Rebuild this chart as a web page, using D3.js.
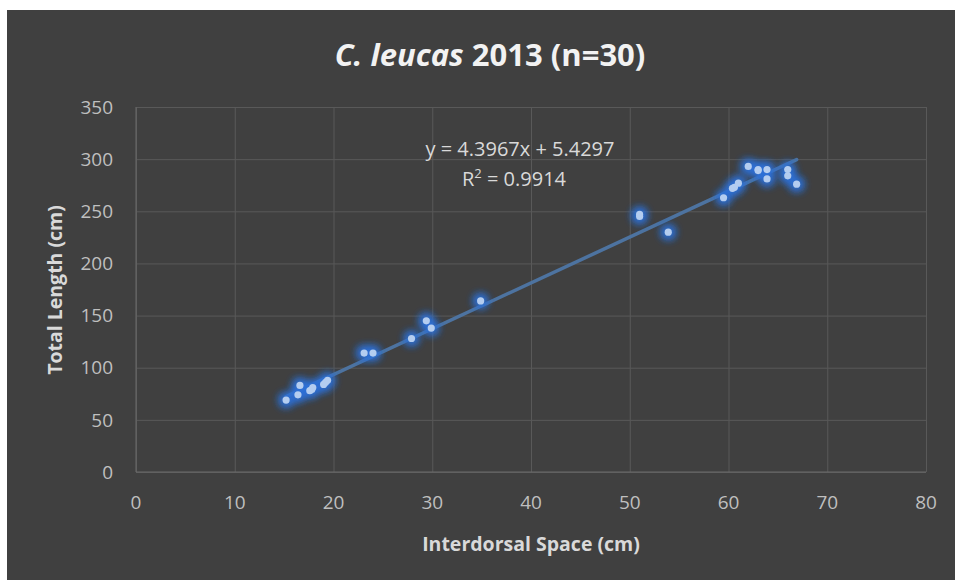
<!DOCTYPE html>
<html>
<head>
<meta charset="utf-8">
<script src="https://cdn.jsdelivr.net/npm/d3@7"></script>
<style>
  body { margin: 0; background: #fff; }
  svg { display: block; font-family: "Open Sans", "DejaVu Sans", sans-serif; }
</style>
</head>
<body>
<div id="chart"></div>
<script>
// measured interdorsal space (cm) and total length (cm)
var spaceCm = [15.2, 16.4, 16.6, 17.6, 17.9, 17.8, 19.0, 19.4, 19.2,
               23.1, 24.0, 27.9, 29.4, 29.9, 34.9,
               51.0, 51.0, 53.9, 59.5, 60.4, 60.6, 61.0, 62.0, 63.0, 63.0,
               63.9, 63.9, 66.0, 66.0, 66.9];
var lengthCm = [69, 74, 83, 78, 81, 79, 84, 88, 86,
                114, 114, 128, 145, 138, 164,
                245, 247, 230, 263, 272, 273, 277, 293, 290, 289,
                290, 281, 290, 284, 276];
var xTicks = [0, 10, 20, 30, 40, 50, 60, 70, 80];
var yTicks = [0, 50, 100, 150, 200, 250, 300, 350];
var slope = 4.3967, intercept = 5.4297, rSquared = 0.9914;

(function(d3) {
  'use strict';
  var width = 955, height = 580;
  var left = 136, right = 926, top = 107, bottom = 472;

  var svg = d3.select('#chart').append('svg')
    .attr('width', width)
    .attr('height', height);

  // glow filter for the markers
  var defs = svg.append('defs');
  var glow = defs.append('filter').attr('id', 'glow')
    .attr('x', '-150%').attr('y', '-150%').attr('width', '400%').attr('height', '400%');
  glow.append('feGaussianBlur').attr('in', 'SourceGraphic').attr('stdDeviation', 4).attr('result', 'b');
  var merge = glow.append('feMerge');
  merge.append('feMergeNode').attr('in', 'b');
  merge.append('feMergeNode').attr('in', 'b');

  svg.append('rect')
    .attr('x', 7).attr('y', 10)
    .attr('width', width - 7).attr('height', height - 10)
    .attr('fill', '#404040');

  var x = d3.scaleLinear().domain([0, 80]).range([left, right]);
  var y = d3.scaleLinear().domain([0, 350]).range([bottom, top]);

  // gridlines
  svg.append('g')
    .attr('transform', 'translate(0,' + bottom + ')')
    .call(d3.axisBottom(x).tickValues(xTicks).tickSize(-(bottom - top)).tickFormat(''))
    .call(function(g) {
      g.select('.domain').remove();
      g.selectAll('line').attr('stroke', '#595959').attr('stroke-width', 1);
    });
  svg.append('g')
    .attr('transform', 'translate(' + left + ',0)')
    .call(d3.axisLeft(y).tickValues(yTicks).tickSize(-(right - left)).tickFormat(''))
    .call(function(g) {
      g.select('.domain').remove();
      g.selectAll('line').attr('stroke', '#595959').attr('stroke-width', 1);
    });
  // axis lines
  svg.append('line').attr('x1', left).attr('x2', left).attr('y1', top).attr('y2', bottom)
    .attr('stroke', '#6a6a6a');
  svg.append('line').attr('x1', left).attr('x2', right).attr('y1', bottom).attr('y2', bottom)
    .attr('stroke', '#6a6a6a');

  // tick labels
  svg.append('g').selectAll('text')
    .data(xTicks).enter().append('text')
    .attr('x', function(d) { return x(d); })
    .attr('y', bottom + 37)
    .attr('text-anchor', 'middle')
    .attr('fill', '#bfbfbf')
    .attr('font-size', 19)
    .text(function(d) { return d; });
  svg.append('g').selectAll('text')
    .data(yTicks).enter().append('text')
    .attr('x', left - 23)
    .attr('y', function(d) { return y(d); })
    .attr('dy', '0.35em')
    .attr('text-anchor', 'end')
    .attr('fill', '#bfbfbf')
    .attr('font-size', 19)
    .text(function(d) { return d; });

  // trendline
  var xMin = d3.min(spaceCm), xMax = d3.max(spaceCm);
  svg.append('line')
    .attr('x1', x(xMin)).attr('y1', y(slope * xMin + intercept))
    .attr('x2', x(xMax)).attr('y2', y(slope * xMax + intercept))
    .attr('stroke', '#4d73a0')
    .attr('stroke-width', 3.5)
    .attr('stroke-linecap', 'round');

  var pts = spaceCm.map(function(v, i) { return { x: v, y: lengthCm[i] }; });
  svg.append('g').attr('filter', 'url(#glow)').selectAll('circle')
    .data(pts).enter().append('circle')
    .attr('cx', function(d) { return x(d.x); })
    .attr('cy', function(d) { return y(d.y); })
    .attr('r', 6.5)
    .attr('fill', '#2f6fd6');
  svg.append('g').selectAll('circle')
    .data(pts).enter().append('circle')
    .attr('cx', function(d) { return x(d.x); })
    .attr('cy', function(d) { return y(d.y); })
    .attr('r', 3.6)
    .attr('fill', '#b4cdf0');

  // equation label
  svg.append('text')
    .attr('x', 520).attr('y', 156)
    .attr('text-anchor', 'middle')
    .attr('fill', '#d9d9d9').attr('font-size', 20)
    .text('y = ' + slope + 'x + ' + intercept);
  var r2 = svg.append('text')
    .attr('x', 514).attr('y', 186)
    .attr('text-anchor', 'middle')
    .attr('fill', '#d9d9d9').attr('font-size', 20);
  r2.append('tspan').text('R');
  r2.append('tspan').attr('dy', -8).attr('font-size', 13).text('2');
  r2.append('tspan').attr('dy', 8).text(' = ' + rSquared);

  // title
  var title = svg.append('text')
    .attr('x', 490).attr('y', 66)
    .attr('text-anchor', 'middle')
    .attr('fill', '#f2f2f2')
    .attr('font-size', 31)
    .attr('font-weight', 'bold');
  title.append('tspan').attr('font-style', 'italic').text('C. leucas');
  title.append('tspan').text(' 2013 (n=30)');

  // axis titles
  svg.append('text')
    .attr('x', 531).attr('y', 551)
    .attr('text-anchor', 'middle')
    .attr('fill', '#d9d9d9')
    .attr('font-size', 19.5)
    .attr('font-weight', 'bold')
    .text('Interdorsal Space (cm)');
  svg.append('text')
    .attr('transform', 'translate(62,290) rotate(-90)')
    .attr('text-anchor', 'middle')
    .attr('fill', '#d9d9d9')
    .attr('font-size', 19.5)
    .attr('font-weight', 'bold')
    .text('Total Length (cm)');
})(window.d3);
</script>
</body>
</html>
